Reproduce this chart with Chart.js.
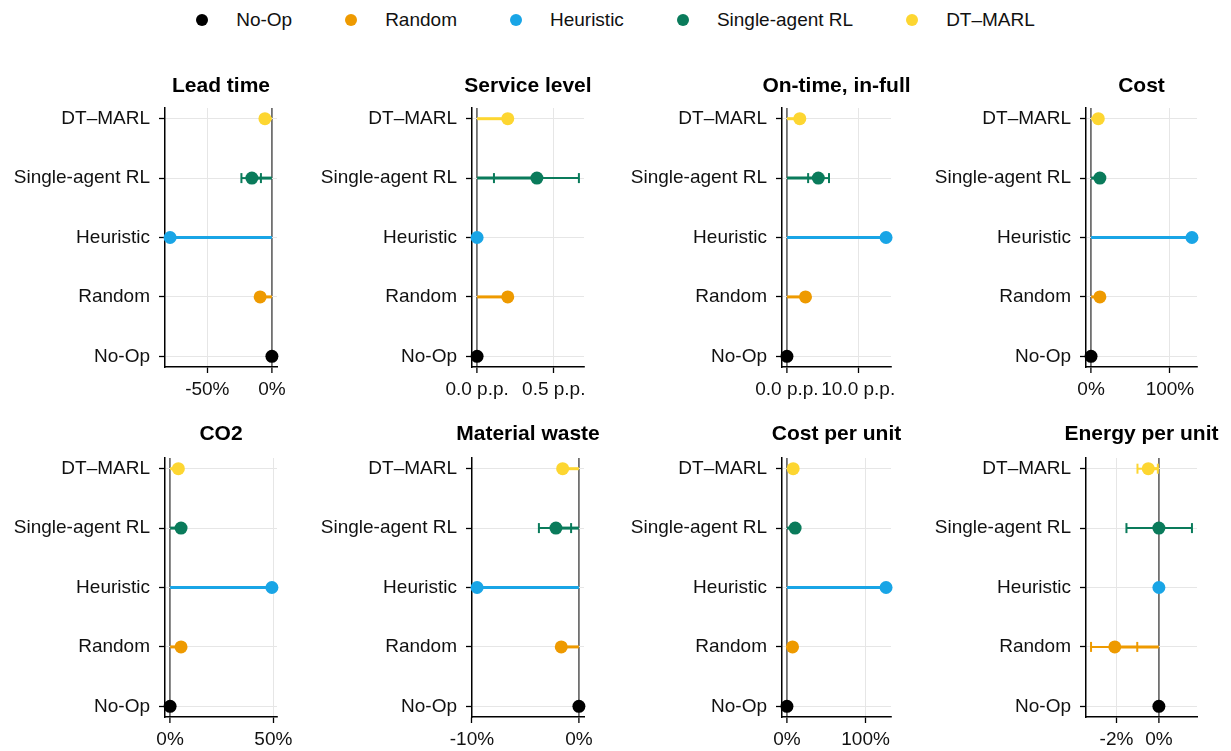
<!DOCTYPE html>
<html>
<head>
<meta charset="utf-8">
<script src="https://cdn.jsdelivr.net/npm/chart.js@4/dist/chart.umd.min.js"></script>
<style>
  body { margin: 0; background: #fff; width: 1231px; height: 751px; position: relative; overflow: hidden;
         font-family: "Liberation Sans", Arial, sans-serif; }
  #legend { position: absolute; top: 9px; left: 0; width: 1231px; display: flex; justify-content: center;
            align-items: center; font-size: 19px; color: #111; }
  .item { display: flex; align-items: center; margin: 0 26.5px; }
  .dot { width: 12px; height: 12px; border-radius: 50%; margin-right: 28px; }
  canvas { position: absolute; }
</style>
</head>
<body>
<div id="legend"></div>
<script>
(function () {
  'use strict'

  // methods and their colours
  var methods = ['No-Op', 'Random', 'Heuristic', 'Single-agent RL', 'DT–MARL']
  var colors = ['#000000', '#EE9A00', '#19A5E6', '#0A7B5B', '#FDD631']
  // rows from top to bottom
  var rowOrder = ['DT–MARL', 'Single-agent RL', 'Heuristic', 'Random', 'No-Op']

  // values per method (order as in methods), error bar ends (null = none)
  var leadTime = [0, -9.1, -78.8, -15.5, -5.4]
  var leadTimeLo = [null, null, null, -23.6, null]
  var leadTimeHi = [null, null, null, -8.5, null]

  var serviceLevel = [0, 0.20, 0.0, 0.39, 0.20]
  var serviceLevelLo = [null, null, null, 0.11, null]
  var serviceLevelHi = [null, null, null, 0.664, null]

  var otif = [0, 2.6, 13.9, 4.4, 1.8]
  var otifLo = [null, 2.3, null, 2.97, null]
  var otifHi = [null, 2.9, null, 5.9, null]

  var cost = [0, 11.2, 127.9, 11.2, 9.2]
  var costLo = [null, null, null, 10.0, null]
  var costHi = [null, null, null, 12.4, null]

  var co2 = [0, 5.3, 49.3, 5.3, 4.0]
  var co2Lo = [null, null, null, 4.4, null]
  var co2Hi = [null, null, null, 6.2, null]

  var materialWaste = [0, -1.65, -9.52, -2.15, -1.52]
  var materialWasteLo = [null, null, null, -3.74, null]
  var materialWasteHi = [null, null, null, -0.73, null]

  var costPerUnit = [0, 7.1, 126.0, 10.4, 7.9]
  var costPerUnitLo = [null, null, null, 8.6, null]
  var costPerUnitHi = [null, null, null, 12.2, null]

  var energyPerUnit = [0, -2.08, 0.0, 0.0, -0.5]
  var energyPerUnitLo = [null, -3.2, null, -1.53, -1.01]
  var energyPerUnitHi = [null, -1.02, null, 1.56, -0.05]

  // tick values
  var leadTimeTicks = [-50, 0]
  var serviceLevelTicks = [0, 0.5]
  var otifTicks = [0, 10]
  var costTicks = [0, 100]
  var co2Ticks = [0, 50]
  var materialWasteTicks = [-10, 0]
  var costPerUnitTicks = [0, 100]
  var energyPerUnitTicks = [-2, 0]

  var pct = function (v) { return v + '%' }
  var pp = function (v) { return v.toFixed(1) + ' p.p.' }

  var panels = [
    { title: 'Lead time', mean: leadTime, lo: leadTimeLo, hi: leadTimeHi, ticks: leadTimeTicks, fmt: pct },
    { title: 'Service level', mean: serviceLevel, lo: serviceLevelLo, hi: serviceLevelHi, ticks: serviceLevelTicks, fmt: pp },
    { title: 'On-time, in-full', mean: otif, lo: otifLo, hi: otifHi, ticks: otifTicks, fmt: pp },
    { title: 'Cost', mean: cost, lo: costLo, hi: costHi, ticks: costTicks, fmt: pct },
    { title: 'CO2', mean: co2, lo: co2Lo, hi: co2Hi, ticks: co2Ticks, fmt: pct },
    { title: 'Material waste', mean: materialWaste, lo: materialWasteLo, hi: materialWasteHi, ticks: materialWasteTicks, fmt: pct },
    { title: 'Cost per unit', mean: costPerUnit, lo: costPerUnitLo, hi: costPerUnitHi, ticks: costPerUnitTicks, fmt: pct },
    { title: 'Energy per unit', mean: energyPerUnit, lo: energyPerUnitLo, hi: energyPerUnitHi, ticks: energyPerUnitTicks, fmt: pct }
  ]

  // layout of the grid
  var plotLeft = [165, 472, 782, 1086]
  var plotWidth = [112, 112, 109, 111]
  var rowTop = [60, 410]
  var titleOffset = [22, 24]
  var xAxisHeight = [38, 34]
  var yAxisWidth = 165
  var titleHeight = 48
  var plotHeight = 259
  var padRight = 30

  var family = '"Liberation Sans", Arial, sans-serif'
  Chart.defaults.font.family = family
  Chart.defaults.color = '#111'

  // legend
  var legend = document.getElementById('legend')
  methods.forEach(function (m, i) {
    var item = document.createElement('div')
    item.className = 'item'
    var dot = document.createElement('span')
    dot.className = 'dot'
    dot.style.background = colors[i]
    var txt = document.createElement('span')
    txt.textContent = m
    item.appendChild(dot)
    item.appendChild(txt)
    legend.appendChild(item)
  })

  // panel title centred over the plot area, allowed to overflow it
  var panelTitle = {
    id: 'panelTitle',
    afterDraw: function (chart, args, opts) {
      var a = chart.chartArea
      var ctx = chart.ctx
      ctx.save()
      ctx.font = 'bold 21px ' + family
      ctx.fillStyle = '#000'
      ctx.textAlign = 'center'
      ctx.textBaseline = 'middle'
      ctx.fillText(opts.text, (a.left + a.right) / 2, a.top - opts.offset)
      ctx.restore()
    }
  }

  panels.forEach(function (p, k) {
    var col = k % 4
    var row = Math.floor(k / 4)
    var canvas = document.createElement('canvas')
    var w = yAxisWidth + plotWidth[col] + padRight
    var h = titleHeight + plotHeight + xAxisHeight[row]
    canvas.width = w
    canvas.height = h
    canvas.style.left = (plotLeft[col] - yAxisWidth) + 'px'
    canvas.style.top = rowTop[row] + 'px'
    document.body.appendChild(canvas)

    // x range with 5% expansion
    var all = [0].concat(p.mean)
    p.lo.forEach(function (v) { if (v !== null) all.push(v) })
    p.hi.forEach(function (v) { if (v !== null) all.push(v) })
    var lo = Math.min.apply(null, all)
    var hi = Math.max.apply(null, all)
    var pad = (hi - lo) * 0.05

    var datasets = []
    // lollipops (segment from 0 + dot), drawn on top
    methods.forEach(function (m, i) {
      var y = rowOrder.indexOf(m)
      datasets.push({
        data: [{ x: 0, y: y }, { x: p.mean[i], y: y }],
        showLine: true,
        borderColor: colors[i],
        borderWidth: 3,
        pointBackgroundColor: colors[i],
        pointBorderWidth: 0,
        pointRadius: function (c) { return c.dataIndex === 1 ? 6.5 : 0 },
        clip: false
      })
    })
    // error bars
    methods.forEach(function (m, i) {
      if (p.lo[i] === null) return
      var y = rowOrder.indexOf(m)
      datasets.push({
        data: [{ x: p.lo[i], y: y }, { x: p.hi[i], y: y }],
        showLine: true,
        borderColor: colors[i],
        borderWidth: 2,
        pointStyle: 'line',
        rotation: 90,
        pointRadius: 5,
        pointBorderColor: colors[i],
        pointBorderWidth: 2,
        clip: false
      })
    })

    new Chart(canvas, {
      type: 'scatter',
      data: { datasets: datasets },
      plugins: [panelTitle],
      options: {
        responsive: false,
        animation: false,
        events: [],
        layout: { padding: { left: 0, right: padRight, top: titleHeight, bottom: 0 } },
        plugins: {
          legend: { display: false },
          tooltip: { enabled: false },
          panelTitle: { text: p.title, offset: titleOffset[row] }
        },
        scales: {
          x: {
            type: 'linear',
            position: 'bottom',
            min: lo - pad,
            max: hi + pad,
            afterFit: function (s) { s.height = xAxisHeight[row] },
            afterBuildTicks: function (s) { s.ticks = p.ticks.map(function (v) { return { value: v } }) },
            ticks: { callback: function (v) { return p.fmt(v) }, font: { size: 19 }, color: '#111',
                     padding: 5, maxRotation: 0, autoSkip: false },
            grid: {
              color: function (c) { return c.tick && c.tick.value === 0 ? '#707070' : '#e6e6e6' },
              lineWidth: function (c) { return c.tick && c.tick.value === 0 ? 1.8 : 1 },
              tickColor: '#000', tickLength: 6, tickWidth: 1.3
            },
            border: { display: true, color: '#000', width: 1.5 }
          },
          y: {
            type: 'linear',
            reverse: true,
            min: -0.18,
            max: 4.18,
            afterFit: function (s) { s.width = yAxisWidth },
            afterBuildTicks: function (s) { s.ticks = rowOrder.map(function (r, j) { return { value: j } }) },
            ticks: { callback: function (v) { return rowOrder[v] }, font: { size: 19 }, color: '#111', padding: 9 },
            grid: { color: '#e6e6e6', lineWidth: 1, tickColor: '#000', tickLength: 6, tickWidth: 1.3 },
            border: { display: true, color: '#000', width: 1.5 }
          }
        }
      }
    })
  })
}())
</script>
</body>
</html>
